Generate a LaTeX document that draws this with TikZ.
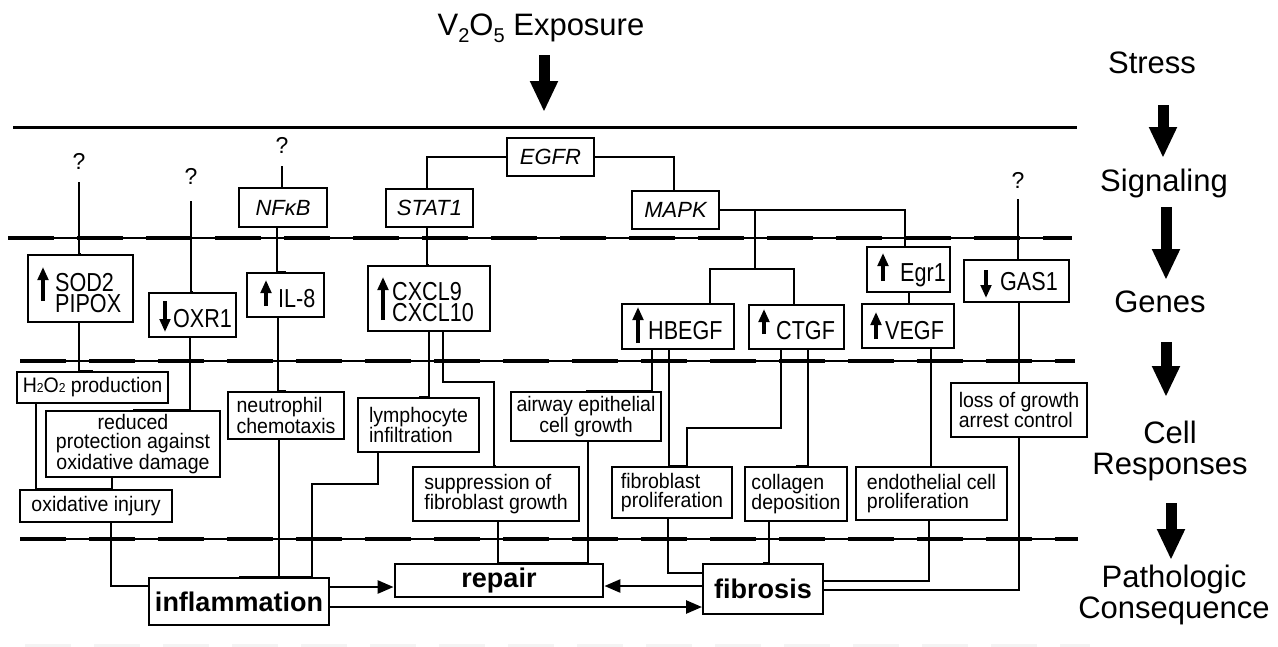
\documentclass[tikz,border=0pt]{standalone}
\usepackage{fontspec}
\setmainfont{Liberation Sans}
\newfontfamily\gf[FakeStretch=0.83]{Liberation Sans}
\newfontfamily\cf[FakeStretch=0.93]{Liberation Sans}
\usetikzlibrary{arrows.meta,calc}
\newcommand\mybox[7][]{\node[box,minimum width={(#4-#2)*1pt},minimum height={(#5-#3)*1pt},#1] (#6) at ({(#2+#4)/2},{(#3+#5)/2}) {#7};}
\tikzset{
  box/.style={draw, line width=2.2pt, inner sep=0pt, align=left, font=\cf\fontsize{21}{19.5}\selectfont},
  sig/.style={line width=2.8pt, font=\itshape\fontsize{22}{22}\selectfont},
  patho/.style={font=\bfseries\fontsize{27}{27}\selectfont},
  gtx/.style={inner sep=0pt, font=\gf\fontsize{26}{21}\selectfont, align=left},
  lab/.style={font=\fontsize{31}{31}\selectfont, inner sep=0pt, align=center},
  qm/.style={font=\fontsize{23}{23}\selectfont, inner sep=0pt, anchor=base},
  conn/.style={line width=2pt},
  pa/.style={line width=2.6pt, -{Triangle[length=16pt,width=13pt]}},
  garr/.style={line width=3.2pt, -{Triangle[length=13pt,width=10.5pt]}},
  bigarr/.style={line width=11pt, -{Triangle[length=31pt,width=26pt]}},
  dl/.style={line width=1.3pt, postaction={draw, line width=4.5pt, dash pattern=on 46pt off 23pt}}
}
\begin{document}
\begin{tikzpicture}[x=1pt,y=-1pt]
\useasboundingbox[fill=white] (0,0) rectangle (1278,646);
% level lines
\draw[line width=3pt] (13,127) -- (1077,127);
\draw[dl] (8,238) -- (1072,238);
\draw[dl] (20,361) -- (1075,361);
\draw[dl] (20,539) -- (1078,539);
\draw[gray!9, line width=3pt, dash pattern=on 46pt off 23pt] (25,645) -- (1090,645);

% exposure
\node[lab, anchor=base] (expo) at (541,35) {V\raisebox{-0.25em}{\fontsize{20}{20}\selectfont 2}O\raisebox{-0.25em}{\fontsize{20}{20}\selectfont 5} Exposure};
\coordinate (e1) at (544,55);
\coordinate (e2) at (544,112);
\draw[bigarr] (e1) -- (e2);

% right labels
\node[lab, anchor=base] (stress) at (1152,73) {Stress};
\node[lab, anchor=base] (signal) at (1164,191) {Signaling};
\node[lab, anchor=base] (genes) at (1160,312) {Genes};
\node[lab] (cellr) at (1170,451) {Cell\\Responses};
\node[lab] (pathc) at (1174,595) {Pathologic\\Consequence};
\coordinate (r1a) at (1163,105); \coordinate (r1b) at (1163,158);
\coordinate (r2a) at (1166,207); \coordinate (r2b) at (1166,280);
\coordinate (r3a) at (1166,342); \coordinate (r3b) at (1166,397);
\coordinate (r4a) at (1171,503); \coordinate (r4b) at (1171,560);
\draw[bigarr] (r1a) -- (r1b);
\draw[bigarr] (r2a) -- (r2b);
\draw[bigarr] (r3a) -- (r3b);
\draw[bigarr] (r4a) -- (r4b);

% question marks
\node[qm] (q1) at (79,169) {?};
\node[qm] (q2) at (191,184) {?};
\node[qm] (q3) at (282,153) {?};
\node[qm] (q4) at (1018,188) {?};

% signaling
\mybox[sig]{239}{188}{327}{227}{nfkb}{NFκB}
\mybox[sig]{386}{189}{473}{227}{stat}{STAT1}
\mybox[sig]{507}{138}{594}{176}{egfr}{EGFR}
\mybox[sig]{632}{191}{719}{229}{mapk}{MAPK}

% genes
\mybox{28}{255}{133}{322}{sod}{}
\mybox{149}{293}{236}{337}{oxr}{}
\mybox{247}{273}{324}{317}{il8}{}
\mybox{368}{266}{490}{331}{cxcl}{}
\mybox{622}{304}{734}{349}{hbegf}{}
\mybox{749}{305}{844}{349}{ctgf}{}
\mybox{867}{247}{950}{292}{egr}{}
\mybox{862}{304}{954}{348}{vegf}{}
\mybox{964}{260}{1069}{302}{gas}{}

\node[gtx, anchor=west] (sodt) at (55,293) {SOD2\\PIPOX};
\node[gtx, anchor=base west] (oxrt) at (173,327) {OXR1};
\node[gtx, anchor=base west] (il8t) at (278,307) {IL-8};
\node[gtx, anchor=west] (cxclt) at (392,302) {CXCL9\\CXCL10};
\node[gtx, anchor=base west] (hbegft) at (648,339) {HBEGF};
\node[gtx, anchor=base west] (ctgft) at (776,339) {CTGF};
\node[gtx, anchor=base west] (egrt) at (900,281) {Egr1};
\node[gtx, anchor=base west] (vegft) at (885,339) {VEGF};
\node[gtx, anchor=base west] (gast) at (1000,290) {GAS1};

\draw[garr] (43,301) -- (43,267);
\draw[garr] (165,301) -- (165,332);
\draw[garr] (266,306) -- (266,280);
\draw[garr] (383,320) -- (383,277);
\draw[garr] (638,343) -- (638,307);
\draw[garr] (764,334) -- (764,309);
\draw[garr] (883,281) -- (883,253);
\draw[garr] (876,339) -- (876,312);
\draw[garr] (986,270) -- (986,298);

% cell responses
\mybox[line width=2.6pt]{17}{372}{168}{403}{h2o2}{H{\fontsize{13}{13}\selectfont 2}O{\fontsize{13}{13}\selectfont 2} production}
\mybox[align=center]{46}{411}{220}{477}{redu}{reduced\\protection against\\oxidative damage}
\mybox[line width=2.6pt]{20}{490}{172}{522}{oxi}{oxidative injury}
\mybox{228}{392}{344}{439}{neut}{neutrophil\\chemotaxis}
\mybox{358}{398}{479}{452}{lymph}{lymphocyte\\infiltration}
\mybox{413}{467}{579}{521}{supp}{suppression of\\fibroblast growth}
\mybox[align=center]{511}{392}{661}{441}{airw}{airway epithelial\\cell growth}
\mybox{612}{467}{732}{518}{fibp}{fibroblast\\proliferation}
\mybox{745}{467}{847}{521}{coll}{collagen\\deposition}
\mybox{856}{467}{1007}{520}{endo}{endothelial cell\\proliferation}
\mybox{951}{383}{1087}{437}{loss}{loss of growth\\arrest control}

% pathologic consequences
\mybox[patho, line width=2pt]{149}{578}{329}{625}{infl}{inflammation}
\mybox[patho, line width=2.8pt]{395}{564}{603}{597}{rep}{repair}
\mybox[patho, line width=2pt]{703}{564}{823}{614}{fib}{fibrosis}

% helper coordinates
\coordinate (j1) at (755,210);
\coordinate (j2) at (755,269);
\coordinate (c1) at (494,382);
\coordinate (c2) at (312,484);
\coordinate (c3) at (687,428);

% connectors
\draw[conn] ([yshift=-13pt]q1.south) |- (sod.north);
\draw[conn] ([yshift=-17pt]q2.south) |- (oxr.north);
\draw[conn] ([yshift=-13pt]q3.south) |- (nfkb.north);
\draw[conn] ([yshift=-11pt]q4.south) |- (gas.north);
\draw[conn] (egfr.west) -| ([xshift=-2.5pt]stat.north);
\draw[conn] (egfr.east) -| ([xshift=-1.5pt]mapk.north);
\draw[conn] ([xshift=-2.5pt]stat.south) |- (cxcl.north);
\draw[conn] (mapk.east) -| ([xshift=-4pt]egr.north);
\draw[conn] (j1) -- (j2);
\draw[conn] ([xshift=32pt]hbegf.north) |- (j2) -| ([xshift=-2.5pt]ctgf.north);
\draw[conn] (egr.south) |- (vegf.north);

\draw[conn] ([xshift=-1.5pt]sod.south) |- (h2o2.north);
\draw[conn] ([xshift=-2.5pt]oxr.south) |- (redu.north);
\draw[conn] ([xshift=-6pt]nfkb.south) |- (il8.north);
\draw[conn] ([xshift=-7.5pt]il8.south) |- (neut.north);
\draw[conn] (cxcl.south) |- (lymph.north);
\draw[conn] ([xshift=14pt]cxcl.south) |- (c1) |- (supp.north);
\draw[conn] ([xshift=-26pt]hbegf.south) |- (airw.north);
\draw[conn] ([xshift=-9pt]hbegf.south) |- (fibp.north);
\draw[conn] ([xshift=-15.5pt]ctgf.south) |- (c3) |- (fibp.north);
\draw[conn] ([xshift=11.5pt]ctgf.south) |- (coll.north);
\draw[conn] ([xshift=23pt]vegf.south) |- (endo.north);
\draw[conn] (gas.south -| loss.north) -- (loss.north);

\draw[conn] ([xshift=-56.5pt]h2o2.south) |- (oxi.north);
\draw[conn] ([xshift=-21pt]redu.south) |- (oxi.north);
\draw[conn] ([xshift=15pt]oxi.south) |- ([yshift=15.5pt]infl.west);
\draw[conn] ([xshift=-7pt]neut.south) |- (infl.north);
\draw[conn] ([xshift=-40.5pt]lymph.south) |- (c2) |- (infl.north);
\draw[conn] ([xshift=2pt]supp.south) |- (rep.north);
\draw[conn] ([xshift=2pt]airw.south) |- (rep.north);
\draw[conn] ([xshift=-4pt]fibp.south) |- ([yshift=16pt]fib.west);
\draw[conn] ([xshift=-27pt]coll.south) |- (fib.north);
\draw[conn] ([xshift=-2.5pt]endo.south) |- ([yshift=8pt]fib.east);
\draw[conn] (loss.south) |- ([yshift=-1pt]fib.east);

% pathologic arrows
\draw[pa] ([yshift=14.5pt]infl.east) -- ([yshift=-6.5pt]rep.west);
\draw[pa] ([yshift=-5.5pt]infl.east) -- ([yshift=-18pt]fib.west);
\draw[pa] ([yshift=3pt]fib.west) -- ([yshift=-5.5pt]rep.east);
\end{tikzpicture}
\end{document}
